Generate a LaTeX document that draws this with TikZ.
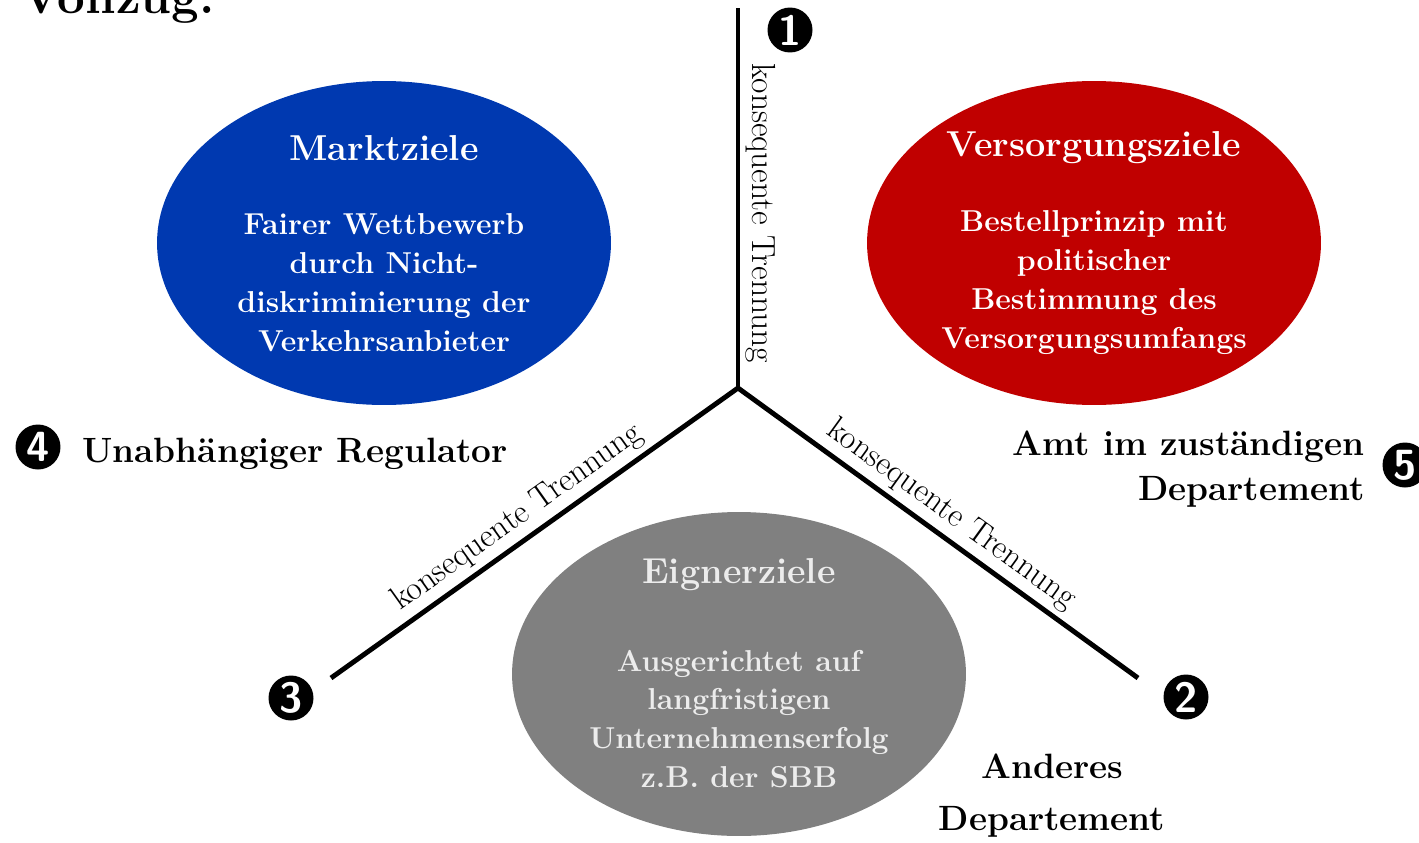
\documentclass[tikz,border=0pt]{standalone}
\usetikzlibrary{positioning,shapes.geometric}
\definecolor{zielblau}{RGB}{0,57,176}
\definecolor{zielrot}{RGB}{192,0,0}
\definecolor{zielgrau}{RGB}{128,128,128}
\definecolor{hellgrau}{RGB}{236,236,236}

\begin{document}
\begin{tikzpicture}[x=0.02cm, y=-0.02cm]
      \tikzstyle{every node} = [inner sep = 0pt];
      \tikzstyle{ziel} = [ellipse, minimum width=9.08cm, minimum height=6.48cm];
      \tikzstyle{titel} = [font=\fontsize{20.5}{25}\selectfont\bfseries, text=white];
      \tikzstyle{inhalt} = [font=\fontsize{17.2}{22.1}\selectfont\bfseries, align=center, text=white];
      \tikzstyle{trennlinie} = [line width=2.8pt];
      \tikzstyle{trennung} = [font=\fontsize{19}{22}\selectfont, sloped, allow upside down, above=3pt];
      \tikzstyle{nummer} = [circle, fill=black, text=white, minimum size=0.9cm, font=\fontsize{24}{24}\selectfont\sffamily\bfseries];
      \tikzstyle{stelle} = [font=\fontsize{20}{25.5}\selectfont\bfseries];
      \useasboundingbox (0,0) rectangle (1419,842);
      \node[font=\fontsize{28}{30}\selectfont\bfseries, anchor=base west] (vollzug) at (20,13) {Vollzug:};
      \node[ziel, fill=zielblau] (markt) at (384,243) {};
      \node[titel] (markttitel) at ([yshift=1.9cm]markt.center) {Marktziele};
      \node[inhalt] (markttext) at ([yshift=-0.79cm]markt.center) {Fairer Wettbewerb\\durch Nicht-\\diskriminierung der\\Verkehrsanbieter};
      \node[ziel, fill=zielrot] (versorgung) at (1094,243) {};
      \node[titel] (versorgungtitel) at ([yshift=1.9cm]versorgung.center) {Versorgungsziele};
      \node[inhalt] (versorgungtext) at ([yshift=-0.79cm]versorgung.center) {Bestellprinzip mit\\politischer\\Bestimmung des\\Versorgungsumfangs};
      \node[ziel, fill=zielgrau] (eigner) at (739,674) {};
      \node[titel, text=hellgrau] (eignertitel) at ([yshift=1.98cm]eigner.center) {Eignerziele};
      \node[inhalt, text=hellgrau] (eignertext) at ([yshift=-0.9cm]eigner.center) {Ausgerichtet auf\\langfristigen\\Unternehmenserfolg\\z.B. der SBB};
      \coordinate (mitte) at (738,388);
      \coordinate (oben) at (738,8);
      \coordinate (links) at (331,678);
      \coordinate (rechts) at (1138,678);
      \draw[trennlinie] (oben) -- node[trennung, pos=0.54] (trennung1) {konsequente Trennung} (mitte);
      \draw[trennlinie] (links) -- node[trennung, pos=0.49] (trennung3) {konsequente Trennung} (mitte)
        -- node[trennung, pos=0.5] (trennung2) {konsequente Trennung} (rechts);
      \foreach \n/\x/\y in {1/790/30, 2/1186/697, 3/291/698, 4/38/447, 5/1405/465}{
        \node[nummer] (nr\n) at (\x,\y) {\n};
      }
      \node[stelle, anchor=base west] (regulator) at (82,462) {Unabhängiger Regulator};
      \node[stelle, align=right, anchor=east] (amt) at (1365,469) {Amt im zuständigen\\Departement};
      \node[stelle, align=center, font=\fontsize{20}{29.5}\selectfont\bfseries] (anderes) at (1052,796) {Anderes\\Departement};
    \end{tikzpicture}
\end{document}
